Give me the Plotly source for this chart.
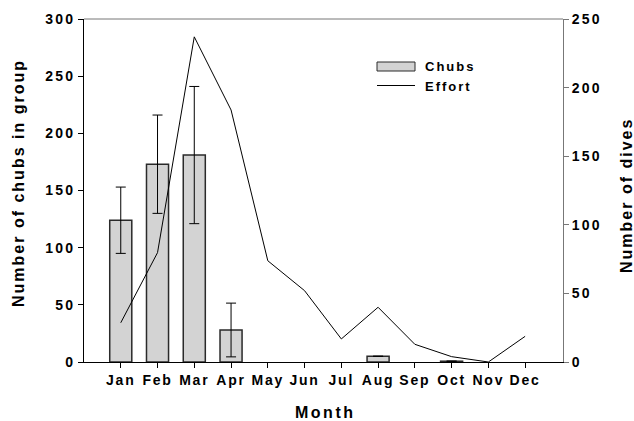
import plotly.graph_objects as go

months = ["Jan", "Feb", "Mar", "Apr", "May", "Jun", "Jul", "Aug", "Sep", "Oct", "Nov", "Dec"]
# months with no chubs recorded are left empty (no bar drawn)
chubs = [124, 173, 181, 28, None, None, None, 5, None, 0.7, None, None]
chubs_err = [29, 43, 60, 23.5, 0, 0, 0, 0, 0, 0, 0, 0]
effort = [28.6, 79.7, 237, 183.7, 73.8, 52, 16.8, 39.9, 12.9, 3.9, 0, 18.7]
left_ticks = [0, 50, 100, 150, 200, 250, 300]
right_ticks = [0, 50, 100, 150, 200, 250]

x = list(range(len(months)))
font = dict(family="Liberation Sans, Arial, sans-serif", color="black")


def spaced(s, sp=2.0):
    return f'<span style="letter-spacing:{sp}px;font-weight:bold">{s}</span>'


fig = go.Figure()
fig.add_trace(go.Bar(
    x=x, y=chubs, width=0.6, name="Chubs",
    marker=dict(color="#d3d3d3", line=dict(color="#2a2a2a", width=1.5)),
    error_y=dict(type="data", array=chubs_err, visible=True,
                 color="black", thickness=1, width=5),
    yaxis="y",
))
fig.add_trace(go.Scatter(
    x=x, y=effort, mode="lines", name="Effort",
    line=dict(color="black", width=1), yaxis="y2",
))

tickfont = dict(size=14, **font)

fig.update_layout(
    width=634, height=421,
    margin=dict(l=84, r=71, t=19, b=59),
    plot_bgcolor="white", paper_bgcolor="white",
    showlegend=False,
    font=dict(size=13, **font),
    xaxis=dict(
        range=[-1, 12.03], tickmode="array", tickvals=x,
        ticktext=[spaced(m, 1.8) for m in months],
        showgrid=False, zeroline=False,
        showline=True, linecolor="black", linewidth=1,
        ticks="outside", ticklen=5, tickcolor="black",
        tickfont=tickfont,
    ),
    yaxis=dict(
        range=[0, 300], tickvals=left_ticks,
        ticktext=[spaced(v, 2.2) for v in left_ticks],
        showgrid=False, zeroline=False,
        showline=True, linecolor="black", linewidth=1,
        ticks="outside", ticklen=5, tickcolor="black",
        tickfont=tickfont,
    ),
    yaxis2=dict(
        range=[0, 250], overlaying="y", side="right",
        tickvals=right_ticks,
        ticktext=[spaced(v, 2.2) for v in right_ticks],
        showgrid=False, zeroline=False,
        showline=True, linecolor="#777777", linewidth=1,
        ticks="outside", ticklen=5, tickcolor="#777777",
        tickfont=tickfont,
    ),
    shapes=[
        # top frame line
        dict(type="line", xref="paper", yref="paper", x0=0, x1=1, y0=1, y1=1,
             line=dict(color="#777777", width=1)),
        # legend keys
        dict(type="rect", xref="paper", yref="paper",
             x0=(377 - 84) / 479, x1=(415 - 84) / 479,
             y0=(362 - 71) / 343, y1=(362 - 62) / 343,
             fillcolor="#d3d3d3", line=dict(color="#2a2a2a", width=1)),
        dict(type="line", xref="paper", yref="paper",
             x0=(377 - 84) / 479, x1=(415 - 84) / 479,
             y0=(362 - 85.5) / 343, y1=(362 - 85.5) / 343,
             line=dict(color="black", width=1)),
    ],
    annotations=[
        dict(text=spaced("Chubs", 2), xref="paper", yref="paper",
             x=(423 - 84) / 479, y=(362 - 66.5) / 343, xanchor="left", yanchor="middle",
             showarrow=False, font=dict(size=13, **font)),
        dict(text=spaced("Effort", 2), xref="paper", yref="paper",
             x=(423 - 84) / 479, y=(362 - 86) / 343, xanchor="left", yanchor="middle",
             showarrow=False, font=dict(size=13, **font)),
        dict(text=spaced("Month", 2.5), xref="paper", yref="paper",
             x=(325 - 84) / 479, y=(362 - 412) / 343, xanchor="center", yanchor="middle",
             showarrow=False, font=dict(size=16, **font)),
        dict(text=spaced("Number of chubs in group", 2), xref="paper", yref="paper",
             x=(18 - 84) / 479, y=(362 - 183) / 343, xanchor="center", yanchor="middle",
             textangle=-90, showarrow=False, font=dict(size=16, **font)),
        dict(text=spaced("Number of dives", 2), xref="paper", yref="paper",
             x=(626 - 84) / 479, y=(362 - 196) / 343, xanchor="center", yanchor="middle",
             textangle=-90, showarrow=False, font=dict(size=16, **font)),
    ],
)

fig.write_html("out.html")
